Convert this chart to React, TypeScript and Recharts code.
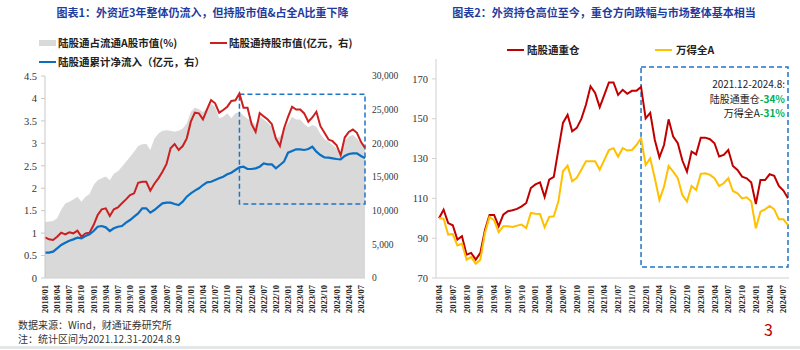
import {
  ComposedChart,
  LineChart,
  Area,
  Line,
  XAxis,
  YAxis,
  ReferenceArea,
} from 'recharts'

const SERIF = '"Liberation Serif", "Times New Roman", serif'
const SANS = '"Noto Sans CJK SC", "Noto Sans", sans-serif'
const TITLE_BLUE = '#1f3c9e'

// month labels like 2018/01
function monthRange(year: number, month: number, count: number): string[] {
  const out: string[] = []
  for (let i = 0; i < count; i++) {
    const t = (month - 1) + i
    const y = year + Math.floor(t / 12)
    const m = (t % 12) + 1
    out.push(`${y}/${m < 10 ? '0' + m : m}`)
  }
  return out
}

// ---- chart 1: 2018/01 - 2024/08 ----
const leftMonths = monthRange(2018, 1, 80)

// 陆股通占流通A股市值 (%)
const sharePct = [
  1.25, 1.26, 1.27, 1.33, 1.52, 1.66, 1.7, 1.75, 1.81, 1.7, 1.81, 1.87,
  2.07, 2.18, 2.22, 2.26, 2.18, 2.32, 2.38, 2.48, 2.59, 2.7, 2.81, 2.94,
  2.98, 2.99, 2.85, 3.1, 3.22, 3.28, 3.29, 3.28, 3.26, 3.28, 3.33, 3.44,
  3.7, 3.8, 3.76, 3.7, 3.78, 3.89, 3.81, 3.56, 3.59, 3.67, 3.56, 3.67,
  3.7, 3.62, 3.55, 3.5, 3.41, 3.59, 3.53, 3.46, 3.37, 3.11, 3.15, 3.3,
  3.44, 3.59, 3.53, 3.53, 3.43, 3.36, 3.41, 3.37, 3.21, 3.09, 3.04, 2.96,
  2.89, 2.78, 3.04, 3.15, 3.19, 3.11, 3.0, 2.96,
]

// 陆股通持股市值 (亿元, 右)
const holdValue = [
  6040, 5745, 5643, 6137, 6730, 6483, 6780, 6632, 7028, 6137, 6632, 6730,
  7870, 9355, 10200, 10345, 9207, 10200, 10494, 11090, 11680, 12325, 12575, 14150,
  14300, 14300, 12970, 14000, 14800, 15790, 16930, 19260, 19900, 19010, 19600, 20740,
  23215, 24550, 24450, 23560, 25050, 26430, 25940, 24550, 24950, 25440, 26285, 26400,
  27400, 25300, 25300, 22850, 21700, 24500, 24000, 23540, 22850, 20710, 19600, 22200,
  23940, 25430, 25030, 25030, 24440, 23200, 23840, 24690, 22550, 21560, 20560, 20320,
  19720, 18230, 20860, 21700, 22050, 21560, 20220, 19300,
]

// 陆股通累计净流入 (亿元, 右)
const netInflow = [
  3760, 3760, 3910, 4405, 4900, 5245, 5545, 5740, 5990, 5890, 6240, 6485,
  6980, 7620, 7720, 7525, 6980, 7375, 7620, 7720, 8215, 8610, 9105, 9600,
  10345, 10345, 9700, 10100, 10590, 11090, 11190, 11190, 10990, 10840, 11340, 12080,
  12575, 12970, 13320, 13810, 14210, 14300, 14550, 14800, 15050, 15400, 15640, 16040,
  16440, 16530, 16190, 16190, 16290, 16530, 17030, 16880, 16880, 16290, 16780, 17280,
  18610, 18860, 19110, 19110, 19010, 19160, 19500, 18760, 18270, 17920, 17870, 17770,
  17670, 17620, 18120, 18410, 18510, 18510, 18120, 17800,
]

const leftTicks = [0, 0.5, 1, 1.5, 2, 2.5, 3, 3.5, 4, 4.5]
const rightTicks = [0, 5000, 10000, 15000, 20000, 25000, 30000]

// ---- chart 2: 2018/04 - 2024/08, index 2018/04 = 100 ----
const rightMonths = monthRange(2018, 4, 77)

const heavyIndex = [
  100, 104.3, 97.6, 96.5, 89.3, 91, 81.7, 82.6, 79.2, 82.6, 94, 101.7,
  101.7, 96, 101.8, 103.5, 104, 104.7, 106, 107.7, 115.2, 117, 118, 110.7,
  119.4, 120.8, 134.5, 147.9, 152, 143.7, 145.4, 149.9, 157, 166.3, 163, 155.8,
  162, 168.2, 168.2, 162, 164.5, 162.5, 164, 164, 166, 150.2, 153, 139.3,
  130.6, 136.8, 149.7, 141, 137.7, 129, 123.4, 133.5, 132.1, 140.5, 140.5, 139.7,
  137.7, 131, 131.8, 134.3, 126.3, 124.3, 120.9, 120.1, 117.9, 107.2, 119.2, 119.2,
  122.1, 121.3, 116.2, 113.9, 110,
]

const windAIndex = [
  100, 99.8, 91.8, 92.1, 86.4, 87.3, 79.2, 80.6, 77.2, 79.2, 92.6, 100.7,
  99, 93, 96, 96, 95.6, 96.3, 96.8, 95.1, 102.7, 102.3, 102.2, 95.5,
  100.7, 101, 108.5, 123.6, 126.4, 118.6, 120.3, 124.4, 128.6, 128.6, 128.6, 124.4,
  129.3, 134.3, 135.2, 131, 135.2, 134, 134.3, 136.8, 140.2, 126.8, 130.1, 120.1,
  109.2, 115.9, 126.3, 123.4, 120.1, 111.7, 108.4, 116.2, 114.2, 122.3, 122.6, 121.8,
  120.1, 116.2, 117.6, 120.1, 113.7, 112.5, 110, 110.5, 108.4, 95, 103.3, 104.5,
  106.2, 104.5, 99.5, 99.5, 96.6,
]

const indexTicks = [70, 90, 110, 130, 150, 170]

const leftData = leftMonths.map((month, i) => ({
  month,
  share: sharePct[i],
  hold: holdValue[i],
  inflow: netInflow[i],
}))

const rightData = rightMonths.map((month, i) => ({
  month,
  heavy: heavyIndex[i],
  windA: windAIndex[i],
}))

function MonthTick(props: any) {
  const { x, y, payload } = props
  return (
    <g transform={`translate(${x},${y})`}>
      <text
        transform="rotate(-90)"
        textAnchor="end"
        dy="0.35em"
        fontSize={8.5}
        fontWeight={700}
        fontFamily={SERIF}
        fill="#222"
      >
        {payload.value}
      </text>
    </g>
  )
}

const axisTick = { fontSize: 10.5, fontFamily: SERIF, fill: '#333' }
const rightAxisTick = { fontSize: 9.5, fontFamily: SERIF, fill: '#333' }

const legendText: React.CSSProperties = {
  position: 'absolute',
  fontFamily: SANS,
  fontWeight: 700,
  fontSize: 10.5,
  color: '#222',
  lineHeight: '14px',
  whiteSpace: 'nowrap',
}

const noteLine: React.CSSProperties = {
  position: 'absolute',
  right: 15,
  fontFamily: SANS,
  fontSize: 10,
  lineHeight: '14px',
  color: '#222',
  whiteSpace: 'nowrap',
  textAlign: 'right',
}

function Swatch({ x, y, color, h = 2 }: { x: number; y: number; color: string; h?: number }) {
  return <div style={{ position: 'absolute', left: x, top: y - h / 2, width: 17, height: h, background: color }} />
}

export default function App() {
  return (
    <div
      style={{
        position: 'absolute',
        left: 0,
        top: 0,
        width: 800,
        height: 350,
        background: '#fff',
        overflow: 'hidden',
      }}
    >
      {/* titles */}
      <div style={{ position: 'absolute', left: 0, width: 405, top: 4, textAlign: 'center', fontFamily: SANS, fontWeight: 700, fontSize: 11, color: TITLE_BLUE }}>
        图表1：外资近3年整体仍流入，但持股市值&占全A比重下降
      </div>
      <div style={{ position: 'absolute', left: 405, width: 398, top: 4, textAlign: 'center', fontFamily: SANS, fontWeight: 700, fontSize: 11, color: TITLE_BLUE }}>
        图表2：外资持仓高位至今，重仓方向跌幅与市场整体基本相当
      </div>

      {/* chart 1 */}
      <div style={{ position: 'absolute', left: 0, top: 0 }}>
        <ComposedChart
          width={400}
          height={350}
          data={leftData}
          margin={{ top: 76, right: 0, bottom: 0, left: 0 }}
          style={{ overflow: 'visible' }}
        >
          <XAxis
            dataKey="month"
            scale="point"
            interval={2}
            height={72}
            tick={<MonthTick />}
            tickLine={false}
            tickSize={0}
            tickMargin={7}
            axisLine={{ stroke: '#d0d0d0' }}
            padding={{ left: 0, right: 0 }}
          />
          <YAxis
            yAxisId="left"
            domain={[0, 4.5]}
            ticks={leftTicks}
            width={45}
            tick={axisTick}
            axisLine={{ stroke: '#c8c8c8' }}
            tickLine={{ stroke: '#c8c8c8' }}
            tickSize={4}
            tickMargin={4}
          />
          <YAxis
            yAxisId="right"
            orientation="right"
            domain={[0, 30000]}
            ticks={rightTicks}
            width={35}
            tick={rightAxisTick}
            tickFormatter={(v: number) => v.toLocaleString('en-US')}
            axisLine={false}
            tickLine={false}
            tickSize={4}
            tickMargin={3}
          />
          <Area
            yAxisId="left"
            type="linear"
            dataKey="share"
            stroke="none"
            fill="#d9d9d9"
            fillOpacity={1}
            isAnimationActive={false}
          />
          <Line yAxisId="right" type="linear" dataKey="hold" stroke="#cc1f1f" strokeWidth={2} dot={false} isAnimationActive={false} />
          <Line yAxisId="right" type="linear" dataKey="inflow" stroke="#0a6fc2" strokeWidth={2.2} dot={false} isAnimationActive={false} />
          <ReferenceArea
            yAxisId="right"
            x1="2022/01"
            x2="2024/08"
            y1={11000}
            y2={27300}
            fill="none"
            fillOpacity={0}
            stroke="#1f74c8"
            strokeWidth={1.5}
            strokeDasharray="5 3"
            ifOverflow="visible"
          />
        </ComposedChart>
      </div>

      {/* legend 1 */}
      <div style={{ position: 'absolute', left: 39, top: 40, width: 17, height: 6, background: '#d9d9d9' }} />
      <div style={{ ...legendText, left: 58, top: 36 }}>陆股通占流通A股市值(%)</div>
      <Swatch x={210} y={43} color="#cc1f1f" />
      <div style={{ ...legendText, left: 229, top: 36 }}>陆股通持股市值(亿元，右)</div>
      <Swatch x={39} y={62} color="#0a6fc2" />
      <div style={{ ...legendText, left: 58, top: 55 }}>陆股通累计净流入（亿元，右）</div>

      {/* chart 2 */}
      <div style={{ position: 'absolute', left: 400, top: 0 }}>
        <LineChart width={400} height={350} data={rightData} margin={{ top: 59, right: 11, bottom: 0, left: 0 }}>
          <XAxis
            dataKey="month"
            scale="point"
            interval={2}
            height={72}
            tick={<MonthTick />}
            tickLine={false}
            tickSize={0}
            tickMargin={7}
            axisLine={{ stroke: '#d0d0d0' }}
            padding={{ left: 3, right: 1 }}
          />
          <YAxis
            domain={[70, 180]}
            ticks={indexTicks}
            width={36}
            tick={axisTick}
            axisLine={{ stroke: '#d0d0d0' }}
            tickLine={{ stroke: '#d0d0d0' }}
            tickSize={4}
            tickMargin={4}
          />
          <Line type="linear" dataKey="heavy" stroke="#c00000" strokeWidth={2} dot={false} isAnimationActive={false} />
          <Line type="linear" dataKey="windA" stroke="#ffc000" strokeWidth={2} dot={false} isAnimationActive={false} />
          <ReferenceArea
            x1="2021/12"
            x2="2024/08"
            y1={75.5}
            y2={176}
            fill="none"
            fillOpacity={0}
            stroke="#1f74c8"
            strokeWidth={1.5}
            strokeDasharray="5 3"
            ifOverflow="visible"
          />
        </LineChart>
      </div>

      {/* legend 2 */}
      <Swatch x={507} y={50} color="#c00000" />
      <div style={{ ...legendText, left: 527, top: 43 }}>陆股通重仓</div>
      <Swatch x={655} y={50} color="#ffc000" />
      <div style={{ ...legendText, left: 676, top: 43 }}>万得全A</div>

      {/* annotation inside box */}
      <div style={{ ...noteLine, top: 77 }}>2021.12-2024.8:</div>
      <div style={{ ...noteLine, top: 91.5 }}>
        陆股通重仓<span style={{ color: '#00b050', fontWeight: 700 }}>-34%</span>
      </div>
      <div style={{ ...noteLine, top: 106 }}>
        万得全A<span style={{ color: '#00b050', fontWeight: 700 }}>-31%</span>
      </div>

      {/* notes */}
      <div style={{ position: 'absolute', left: 18, top: 318, fontFamily: SANS, fontSize: 10, lineHeight: '14px', color: '#333' }}>
        <div>数据来源：Wind，财通证券研究所</div>
        <div>注：统计区间为2021.12.31-2024.8.9</div>
      </div>

      <div style={{ position: 'absolute', left: 764, top: 317, fontFamily: SANS, fontSize: 16, color: '#c00000' }}>3</div>
      <div style={{ position: 'absolute', left: 0, top: 346, width: 800, height: 3, background: '#e2e8e8' }} />
    </div>
  )
}
